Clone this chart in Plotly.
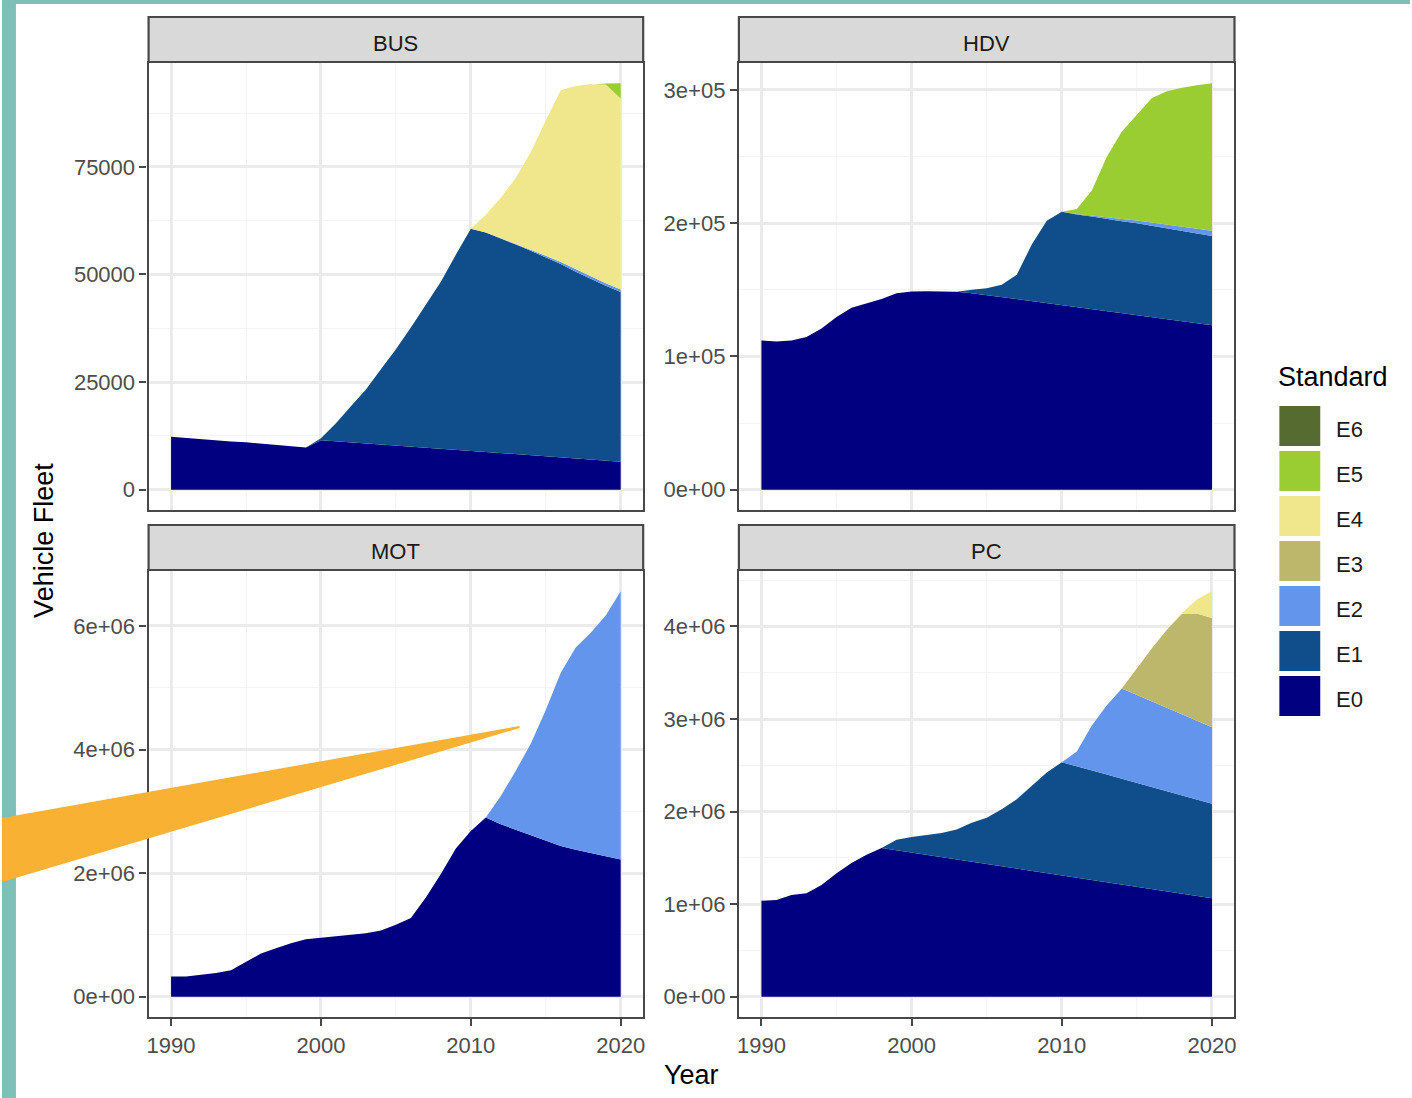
import plotly.graph_objects as go

# ---------------------------------------------------------------- data
years = list(range(1990, 2021))
standards = ["E0", "E1", "E2", "E3", "E4", "E5", "E6"]
std_colors = ["#000080", "#104E8B", "#6495ED", "#BDB76B", "#F0E68C", "#9ACD32", "#556B2F"]

# BUS fleet by emission standard
bus_e0 = [12300, 12000, 11800, 11500, 11200, 11000, 10700, 10400, 10100, 9800,
          11500, 11250, 11000, 10750, 10500, 10250, 10000, 9750, 9500, 9250,
          9000, 8750, 8500, 8250, 8000, 7750, 7500, 7250, 7000, 6750, 6500]
bus_e1 = [0] * 10 + [450, 4200, 8400, 12500, 17500, 22400, 27700, 33100, 38800, 45300,
                     51600, 51000, 49900, 48700, 47500, 46200, 44900, 43400, 42000, 40600, 39400]
bus_e2 = [0] * 23 + [200, 300, 400, 500, 600, 600, 600, 600]
bus_e4 = [0] * 21 + [4100, 9400, 15300, 22600, 31400, 39900, 42500, 44500, 46200, 44400]
bus_e5 = [0] * 29 + [200, 3500]

# HDV fleet by emission standard
hdv_e0 = [112000, 111300, 112000, 114600, 120900, 129700, 136600, 139900, 143100, 147400,
          148700, 149000, 149000, 148500, 147500, 146000, 144500, 143000, 141500, 140000,
          138500, 137000, 135500, 134000, 132500, 131000, 129500, 128000, 126500, 125000, 123500]
hdv_e1 = [0] * 14 + [2500, 5200, 9300, 18300, 42500, 61800, 70100, 69500, 69500, 69000,
                     69000, 69000, 68500, 68000, 67500, 67000, 66900]
hdv_e2 = [0] * 21 + [400, 800, 1200, 1600, 2000, 2400, 2800, 3200, 3600, 4000]
hdv_e5 = [0] * 21 + [3800, 18800, 45700, 65700, 79500, 93600, 100200, 104500, 107900, 110600]

# MOT fleet by emission standard
mot_e0 = [328000, 328000, 356000, 383000, 427000, 564000, 700000, 783000, 865000, 931000,
          958000, 985000, 1013000, 1029000, 1073000, 1166000, 1275000, 1604000, 1987000, 2398000,
          2680000, 2900000, 2790000, 2700000, 2610000, 2520000, 2440000, 2380000, 2330000, 2280000, 2220000]
mot_e2 = [0] * 22 + [456000, 957000, 1484000, 2120000, 2800000, 3270000, 3560000, 3890000, 4340000]

# PC fleet by emission standard
pc_e0 = [1037000, 1045000, 1099000, 1117000, 1208000, 1335000, 1444000, 1534000, 1607000,
         1582000, 1558000, 1533000, 1508000, 1484000, 1459000, 1434000, 1409000, 1385000, 1360000,
         1335000, 1311000, 1286000, 1261000, 1237000, 1212000, 1187000, 1162000, 1138000, 1113000,
         1088000, 1064000]
pc_e1 = [0] * 9 + [115000, 168000, 219000, 262000, 322000, 420000, 499000, 615000, 748000, 918000,
                   1088000, 1221000, 1204000, 1184000, 1163000, 1143000, 1123000, 1103000, 1082000,
                   1062000, 1042000, 1021000]
pc_e2 = [0] * 21 + [158000, 486000, 748000, 975000, 950000, 925000, 900000, 875000, 850000, 825000]
pc_e3 = [0] * 25 + [287000, 575000, 844000, 1086000, 1160000, 1180000]
pc_e4 = [0] * 28 + [10000, 150000, 290000]

# y-axis breaks and labels per facet
bus_ticks = [0, 25000, 50000, 75000]
bus_labels = ["0", "25000", "50000", "75000"]
hdv_ticks = [0, 100000, 200000, 300000]
hdv_labels = ["0e+00", "1e+05", "2e+05", "3e+05"]
mot_ticks = [0, 2000000, 4000000, 6000000]
mot_labels = ["0e+00", "2e+06", "4e+06", "6e+06"]
pc_ticks = [0, 1000000, 2000000, 3000000, 4000000]
pc_labels = ["0e+00", "1e+06", "2e+06", "3e+06", "4e+06"]
year_ticks = [1990, 2000, 2010, 2020]

# ---------------------------------------------------------------- layout helpers
W, H = 1412, 1098
FONT = "Liberation Sans, Arial, sans-serif"


def fx(px):
    return px / W


def fy(py):
    return 1 - py / H


panels = [
    ("BUS", {"E0": bus_e0, "E1": bus_e1, "E2": bus_e2, "E4": bus_e4, "E5": bus_e5},
     bus_ticks, bus_labels, (147, 643, 63, 510), False),
    ("HDV", {"E0": hdv_e0, "E1": hdv_e1, "E2": hdv_e2, "E5": hdv_e5},
     hdv_ticks, hdv_labels, (739, 1236, 63, 510), False),
    ("MOT", {"E0": mot_e0, "E2": mot_e2},
     mot_ticks, mot_labels, (147, 643, 571, 1017), True),
    ("PC", {"E0": pc_e0, "E1": pc_e1, "E2": pc_e2, "E3": pc_e3, "E4": pc_e4},
     pc_ticks, pc_labels, (739, 1236, 571, 1017), True),
]

fig = go.Figure()
layout = dict(
    width=W, height=H,
    margin=dict(l=0, r=0, t=0, b=0),
    paper_bgcolor="white", plot_bgcolor="white",
    showlegend=False,
    font=dict(family=FONT, color="#4D4D4D"),
)
shapes = []
annotations = []

border = "#484848"
grid_major = "#EBEBEB"
grid_minor = "#F4F4F4"

for i, (name, series, yt, yl, (x0, x1, y0, y1), bottom) in enumerate(panels):
    k = "" if i == 0 else str(i + 1)
    xa, ya = "x" + k, "y" + k
    for s, c in zip(standards, std_colors):
        if s in series:
            fig.add_trace(go.Scatter(
                x=years, y=series[s], xaxis=xa, yaxis=ya,
                stackgroup="p" + str(i), mode="lines",
                line=dict(width=0, color=c), fillcolor=c, name=s,
                hoverinfo="x+y+name",
            ))
    totals = [sum(v[j] for v in series.values()) for j in range(len(years))]
    ymax = max(totals)
    step = yt[1] - yt[0]
    minor_y = [t + step / 2 for t in yt] + [yt[0] - step / 2]

    layout["xaxis" + k] = dict(
        domain=[fx(x0), fx(x1)], anchor=ya, range=[1988.5, 2021.5],
        tickmode="array", tickvals=year_ticks, ticktext=[str(t) for t in year_ticks],
        showticklabels=bottom, ticks="outside" if bottom else "",
        ticklen=7, tickwidth=2, tickcolor=border,
        tickfont=dict(size=22, color="#4D4D4D", family=FONT),
        showgrid=True, gridcolor=grid_major, gridwidth=2.5,
        minor=dict(tickmode="array", tickvals=[1985, 1995, 2005, 2015, 2025],
                   showgrid=True, gridcolor=grid_minor, gridwidth=1.3, ticks=""),
        showline=True, linecolor=border, linewidth=2.2, mirror=True,
        zeroline=False, fixedrange=True,
    )
    layout["yaxis" + k] = dict(
        domain=[fy(y1), fy(y0)], anchor=xa,
        range=[-0.05 * ymax, 1.05 * ymax],
        tickmode="array", tickvals=yt, ticktext=yl,
        ticks="outside", ticklen=7, tickwidth=2, tickcolor=border,
        tickfont=dict(size=22, color="#4D4D4D", family=FONT),
        showgrid=True, gridcolor=grid_major, gridwidth=2.5,
        minor=dict(tickmode="array", tickvals=minor_y,
                   showgrid=True, gridcolor=grid_minor, gridwidth=1.3, ticks=""),
        showline=True, linecolor=border, linewidth=2.2, mirror=True,
        zeroline=False, fixedrange=True,
    )

    # facet strip
    s_top = y0 - 46
    shapes.append(dict(type="rect", xref="paper", yref="paper",
                       x0=fx(x0), x1=fx(x1), y0=fy(y0 - 1), y1=fy(s_top),
                       fillcolor="#D9D9D9", line=dict(color=border, width=2.2),
                       layer="below"))
    annotations.append(dict(xref="paper", yref="paper",
                            x=fx((x0 + x1) / 2), y=fy((s_top + y0) / 2 + 3),
                            text=name, showarrow=False,
                            xanchor="center", yanchor="middle",
                            font=dict(size=22, color="#1A1A1A", family=FONT)))

# axis titles
annotations.append(dict(xref="paper", yref="paper", x=fx(42), y=fy(540),
                        text="Vehicle Fleet", textangle=-90, showarrow=False,
                        xanchor="center", yanchor="middle",
                        font=dict(size=27, color="black", family=FONT)))
annotations.append(dict(xref="paper", yref="paper", x=fx(691), y=fy(1075),
                        text="Year", showarrow=False,
                        xanchor="center", yanchor="middle",
                        font=dict(size=27, color="black", family=FONT)))

# legend
annotations.append(dict(xref="paper", yref="paper", x=fx(1278), y=fy(377),
                        text="Standard", showarrow=False,
                        xanchor="left", yanchor="middle",
                        font=dict(size=27, color="black", family=FONT)))
for j, (s, c) in enumerate(zip(standards[::-1], std_colors[::-1])):
    top = 406 + 45 * j
    shapes.append(dict(type="rect", xref="paper", yref="paper",
                       x0=fx(1281), x1=fx(1322), y0=fy(top + 40), y1=fy(top),
                       fillcolor=c, line=dict(width=0), layer="above"))
    annotations.append(dict(xref="paper", yref="paper", x=fx(1336), y=fy(top + 23),
                            text=s, showarrow=False, xanchor="left", yanchor="middle",
                            font=dict(size=22, color="#1A1A1A", family=FONT)))

# page frame and pointer
teal = "#7EBFB8"
shapes.append(dict(type="rect", xref="paper", yref="paper",
                   x0=0, x1=fx(14), y0=0, y1=1, fillcolor=teal,
                   line=dict(width=0), layer="above"))
shapes.append(dict(type="rect", xref="paper", yref="paper",
                   x0=0, x1=1, y0=fy(4), y1=1, fillcolor=teal,
                   line=dict(width=0), layer="above"))
pointer = [(0, 818), (519, 726), (519, 728), (0, 882)]
path = "M " + " L ".join(f"{fx(a):.5f},{fy(b):.5f}" for a, b in pointer) + " Z"
shapes.append(dict(type="path", xref="paper", yref="paper", path=path,
                   fillcolor="#F8B133", line=dict(width=0), layer="above"))

layout["shapes"] = shapes
layout["annotations"] = annotations
fig.update_layout(**layout)

fig.write_html("out.html")
